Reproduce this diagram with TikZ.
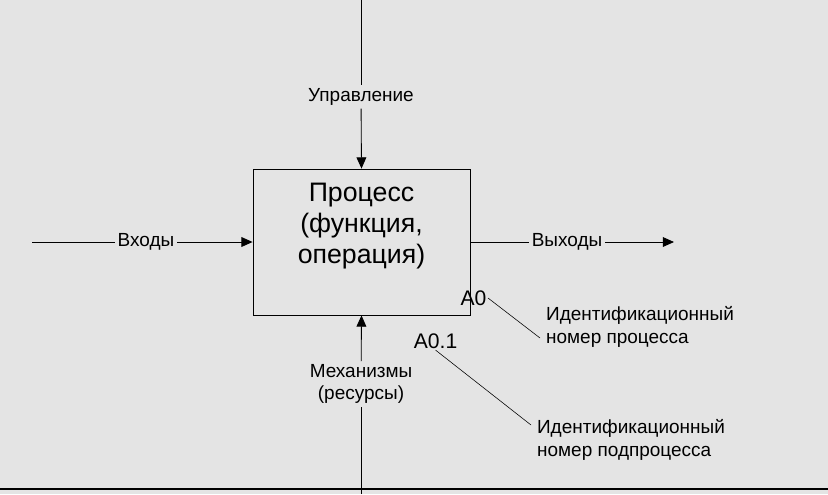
\documentclass[tikz,border=0pt]{standalone}
\usepackage{fontspec}
\setmainfont{Liberation Sans}
\usetikzlibrary{arrows.meta}
\definecolor{paper}{HTML}{E4E4E4}
\tikzset{
  lbl/.style={fill=paper, inner sep=2pt, font=\fontsize{13.5}{16}\selectfont, align=center},
  flow/.style={draw, semithick, -{Triangle[length=8pt,width=7pt]}},
  lead/.style={draw, thin, -}
}
\begin{document}
\begin{tikzpicture}[x=0.025cm, y=-0.025cm]
\fill[paper] (0,0) rectangle (828,494);
\useasboundingbox (0,0) rectangle (828,494);
\draw[line width=1.5pt] (0,489) -- (828,489);

\node[draw, semithick, minimum width=217*0.025cm, minimum height=146*0.025cm, fill=paper] (p) at (361.5,242) {};
\node[align=center, font=\fontsize{19}{22}\selectfont] (ptxt) at (361.5,226) {Процесс\\(функция,\\операция)};
\node[anchor=east, font=\fontsize{15}{17}\selectfont, inner sep=1pt] (a0) at (488,298) {A0};
\node[anchor=east, font=\fontsize{15}{17}\selectfont, inner sep=1pt] (a01) at (459,341) {A0.1};

\coordinate (ctop) at (361,0);
\coordinate (inL) at (32,242);
\coordinate (outR) at (674,242);
\coordinate (mbot) at (361,494);

\node[lbl] (ctl) at (361,97) {Управление};
\node[lbl] (inp) at (146,242) {Входы};
\node[lbl] (outp) at (567,242) {Выходы};
\node[lbl] (mech) at (361,384) {Механизмы\\(ресурсы)};

\path[draw, semithick] (ctop) -- (ctl);
\path[flow] (ctl) -- (p.north);
\path[draw, semithick] (inL) -- (inp.west);
\path[flow] (inp.east) -- (p.west);
\path[draw, semithick] (p.east) -- (outp.west);
\path[flow] (outp.east) -- (outR);
\path[draw, semithick] (mbot) -- (mech);
\path[flow] (mech) -- (p.south);

\node[lbl, fill=none, align=left, anchor=west] (id1) at (543,327) {Идентификационный\\номер процесса};
\node[lbl, fill=none, align=left, anchor=west] (id2) at (534,440) {Идентификационный\\номер подпроцесса};
\path[lead] (a0.east) -- (540,338);
\path[lead] (a01.south) -- (531,425);
\end{tikzpicture}
\end{document}
